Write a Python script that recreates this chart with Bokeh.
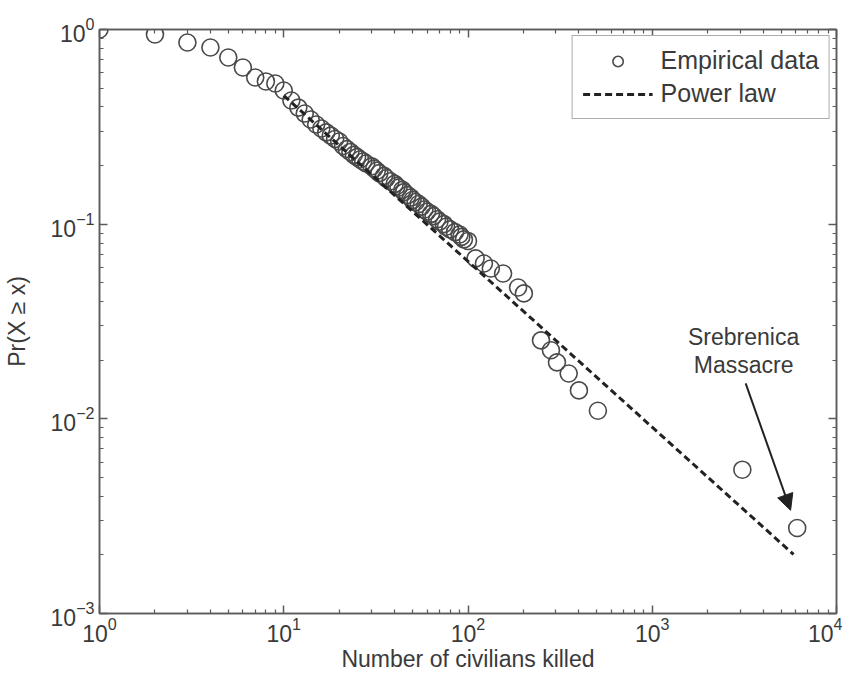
from bokeh.plotting import figure
from bokeh.models import (LogAxis, FixedTicker, Legend, LegendItem, Arrow,
                          NormalHead, Label, CustomJSTickFormatter)
from bokeh.embed import file_html
from bokeh.resources import INLINE

# ---- data ----
emp_x = [1, 2, 3, 4, 5, 6, 7, 8, 9, 10, 11, 12, 13, 14, 15, 16, 17, 18, 19, 20,
         21, 22, 23, 24, 25, 26, 27, 28, 30, 31, 32, 33, 35, 36, 38, 40, 41, 42,
         44, 45, 47, 49, 50, 52, 54, 56, 58, 60, 63, 65, 68, 70, 74, 76, 80, 85,
         90, 92, 95, 100, 110, 122, 133, 155, 187, 201, 249, 282, 304, 352, 400,
         507, 3083, 6120]
emp_y = [1.0, 0.943, 0.857, 0.808, 0.718, 0.638, 0.567, 0.541, 0.528, 0.486,
         0.432, 0.397, 0.370, 0.345, 0.325, 0.310, 0.296, 0.285, 0.274, 0.266,
         0.252, 0.243, 0.235, 0.227, 0.221, 0.215, 0.210, 0.205,
         0.198, 0.193, 0.188, 0.183, 0.177, 0.172, 0.166, 0.161, 0.157, 0.154,
         0.150, 0.146, 0.141, 0.137, 0.133, 0.130, 0.127, 0.123, 0.119, 0.116,
         0.113, 0.110, 0.106, 0.103, 0.100, 0.097, 0.094, 0.091, 0.0885, 0.086,
         0.0835, 0.082, 0.0667, 0.0628, 0.0592, 0.0558, 0.0473, 0.0441,
         0.0253, 0.0225, 0.0195, 0.0171, 0.0140, 0.0110, 0.00548, 0.00275]
pl_x = [10, 5850]
pl_y = [0.458, 0.00201]
x_ticks = [1, 10, 100, 1000, 10000]
y_ticks = [0.001, 0.01, 0.1, 1]
annot_text = ["Srebrenica", "Massacre"]
annot_x = 3133
annot_y = [0.0262, 0.0188]
arrow_start = (3214, 0.0152)
arrow_end = (5634, 0.00339)

FONT = "Liberation Sans"
AX_COL = "#5a5a5a"
TXT_COL = "#3a3a3a"

x_minor = [m * 10 ** e for e in range(0, 4) for m in range(2, 10)]
y_minor = [m * 10.0 ** e for e in range(-3, 0) for m in range(2, 10)]

p = figure(width=842, height=675, x_axis_type="log", y_axis_type="log",
           x_range=(1, 10000), y_range=(0.001, 1), output_backend="svg",
           toolbar_location=None, min_border_left=96, min_border_right=6,
           min_border_top=29, min_border_bottom=62)
p.xgrid.visible = False
p.ygrid.visible = False
p.outline_line_color = AX_COL
p.outline_line_width = 1.5
p.background_fill_color = "white"
p.border_fill_color = "white"

bottom = p.below[0]
left = p.left[0]
top = LogAxis()
right = LogAxis()
p.add_layout(top, "above")
p.add_layout(right, "right")
for ax in (top, right):
    ax.formatter = CustomJSTickFormatter(code="return ''")
    ax.major_label_standoff = 0
    ax.axis_label_standoff = 0
    ax.major_label_text_font_size = "1px"

for ax, tk, mn in ((bottom, x_ticks, x_minor), (top, x_ticks, x_minor),
                   (left, y_ticks, y_minor), (right, y_ticks, y_minor)):
    ax.ticker = FixedTicker(ticks=tk, minor_ticks=mn)
    ax.major_tick_in = 8
    ax.major_tick_out = 0
    ax.minor_tick_in = 4
    ax.minor_tick_out = 0
    ax.axis_line_color = AX_COL
    ax.axis_line_width = 1.5
    ax.major_tick_line_color = AX_COL
    ax.major_tick_line_width = 1.5
    ax.minor_tick_line_color = AX_COL
    ax.minor_tick_line_width = 1.2

for ax in (bottom, left):
    ax.major_label_text_font = FONT
    ax.major_label_text_font_size = "23px"
    ax.major_label_text_color = TXT_COL
    ax.axis_label_text_font = FONT
    ax.axis_label_text_font_size = "23px"
    ax.axis_label_text_font_style = "normal"
    ax.axis_label_text_color = TXT_COL

bottom.axis_label = "Number of civilians killed"
left.axis_label = "Pr(X \u2265 x)"
bottom.major_label_standoff = 3
bottom.axis_label_standoff = 1
left.major_label_standoff = 5
left.axis_label_standoff = 18

r_emp = p.scatter(emp_x, emp_y, marker="circle", size=17, fill_color=None,
                  line_color="#4a4a4a", line_width=1.6)
r_pl = p.line(pl_x, pl_y, line_dash="7 4", line_width=3, line_color="#222222")

legend = Legend(items=[LegendItem(label="Empirical data", renderers=[r_emp]),
                       LegendItem(label="Power law", renderers=[r_pl])],
                location="top_right", margin=6, padding=10, spacing=4,
                glyph_width=70, glyph_height=26, label_height=26,
                label_standoff=8, label_text_font=FONT,
                label_text_font_size="25px", label_text_color=TXT_COL,
                border_line_color=AX_COL, border_line_width=1.5,
                background_fill_color="white", background_fill_alpha=1.0)
p.add_layout(legend)

for t, yv in zip(annot_text, annot_y):
    p.add_layout(Label(x=annot_x, y=yv, text=t, text_align="center",
                       text_baseline="middle", text_font=FONT,
                       text_font_size="23px", text_color=TXT_COL))

p.add_layout(Arrow(x_start=arrow_start[0], y_start=arrow_start[1],
                   x_end=arrow_end[0], y_end=arrow_end[1],
                   line_color="#222222", line_width=2,
                   end=NormalHead(size=16, fill_color="#222222",
                                  line_color="#222222")))

open("out.html", "w").write(file_html(p, INLINE))
